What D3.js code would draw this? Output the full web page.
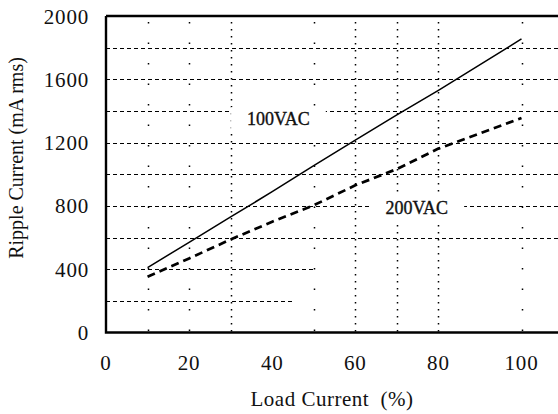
<!DOCTYPE html>
<html>
<head>
<meta charset="utf-8">
<script src="https://cdn.jsdelivr.net/npm/d3@7"></script>
<style>
  html, body { margin: 0; padding: 0; background: #fff; }
  svg { display: block; }
  text { font-family: "Liberation Serif", "Times New Roman", serif; fill: #111; }
</style>
</head>
<body>
<svg id="chart" width="558" height="414"></svg>
<script>
// Ripple current vs. load current for two input voltages
const loadPct   = [10, 20, 30, 40, 50, 60, 70, 80, 100];
const ripple100 = [410, 570, 730, 890, 1055, 1215, 1375, 1530, 1855];
const ripple200 = [352, 468, 588, 700, 804, 930, 1033, 1162, 1355];
const seriesNames = ["100VAC", "200VAC"];

const xTicks = [0, 20, 40, 60, 80, 100];
const yTicks = [0, 400, 800, 1200, 1600, 2000];
const yGrid  = [200, 400, 600, 800, 1000, 1200, 1400, 1600, 1800];
// horizontal grid lines that stop short of the right side (load % where they end)
const yGridEnd = {200: 45, 400: 50};
const xGridDense  = [30, 60, 70, 80];
const xGridSparse = [10, 20, 50, 100];

// label anchors in data units
const labelAt = [
  {name: seriesNames[0], x: 41.5, y: 1310},
  {name: seriesNames[1], x: 74.8, y: 748}
];

const svg = d3.select("#chart");
const plotLeft = 106, plotTop = 16, plotBottom = 332.5;

const x = d3.scaleLinear().domain([0, 110]).range([plotLeft, plotLeft + 110 * 4.155]);
const y = d3.scaleLinear().domain([0, 2000]).range([plotBottom, plotTop]);

// grid
const g = svg.append("g");
g.selectAll("line.hg").data(yGrid).join("line")
  .attr("x1", x(0)).attr("x2", d => yGridEnd[d] !== undefined ? x(yGridEnd[d]) : 560)
  .attr("y1", d => Math.round(y(d)) + 0.5).attr("y2", d => Math.round(y(d)) + 0.5)
  .attr("stroke", "#000").attr("stroke-width", 1.1)
  .attr("stroke-dasharray", "4,3");

g.selectAll("line.vd").data(xGridDense).join("line")
  .attr("x1", d => Math.round(x(d)) + 0.5).attr("x2", d => Math.round(x(d)) + 0.5)
  .attr("y1", y(2000) + 6).attr("y2", plotBottom)
  .attr("stroke", "#000").attr("stroke-width", 1.5)
  .attr("stroke-dasharray", "1.5,5.5");

g.selectAll("line.vs").data(xGridSparse).join("line")
  .attr("x1", d => Math.round(x(d)) + 0.5).attr("x2", d => Math.round(x(d)) + 0.5)
  .attr("y1", y(2000) + 6).attr("y2", plotBottom)
  .attr("stroke", "#000").attr("stroke-width", 1.5)
  .attr("stroke-dasharray", "1.5,19");

// series
const line = d3.line().x((d, i) => x(loadPct[i])).y(d => y(d));

svg.append("path").datum(ripple100)
  .attr("d", line).attr("fill", "none")
  .attr("stroke", "#000").attr("stroke-width", 1.5);

svg.append("path").datum(ripple200)
  .attr("d", line).attr("fill", "none")
  .attr("stroke", "#000").attr("stroke-width", 2.7)
  .attr("stroke-dasharray", "8,5");

// series labels on white boxes that break the grid lines
labelAt.forEach(l => {
  const t = svg.append("text")
    .attr("x", x(l.x)).attr("y", y(l.y))
    .attr("text-anchor", "middle")
    .attr("font-size", 18)
    .attr("stroke", "#111").attr("stroke-width", 0.35)
    .text(l.name);
  const b = t.node().getBBox();
  svg.insert("rect", () => t.node())
    .attr("x", b.x - 16).attr("y", b.y - 2)
    .attr("width", b.width + 32).attr("height", b.height + 4)
    .attr("fill", "#fff");
});

// frame
svg.append("path")
  .attr("d", `M${x(0)},${plotTop}V${plotBottom}H560M${x(0)},${plotTop}H560`)
  .attr("fill", "none").attr("stroke", "#000").attr("stroke-width", 2.4);

// tick labels
svg.selectAll("text.yt").data(yTicks).join("text")
  .attr("x", 89).attr("y", d => y(d))
  .attr("dy", "0.36em").attr("text-anchor", "end")
  .attr("font-size", 21).attr("letter-spacing", 0.8).text(d => d);

svg.selectAll("text.xt").data(xTicks).join("text")
  .attr("x", d => x(d)).attr("y", 369.5)
  .attr("text-anchor", "middle")
  .attr("font-size", 21).attr("letter-spacing", 0.8).text(d => d);

// axis titles
svg.append("text")
  .attr("x", 332).attr("y", 405.5)
  .attr("text-anchor", "middle")
  .attr("font-size", 21)
  .attr("letter-spacing", 0.5)
  .attr("xml:space", "preserve")
  .text("Load Current  (%)");

svg.append("text")
  .attr("transform", `translate(23,158) rotate(-90)`)
  .attr("text-anchor", "middle")
  .attr("font-size", 20)
  .text("Ripple Current (mA rms)");
</script>
</body>
</html>
